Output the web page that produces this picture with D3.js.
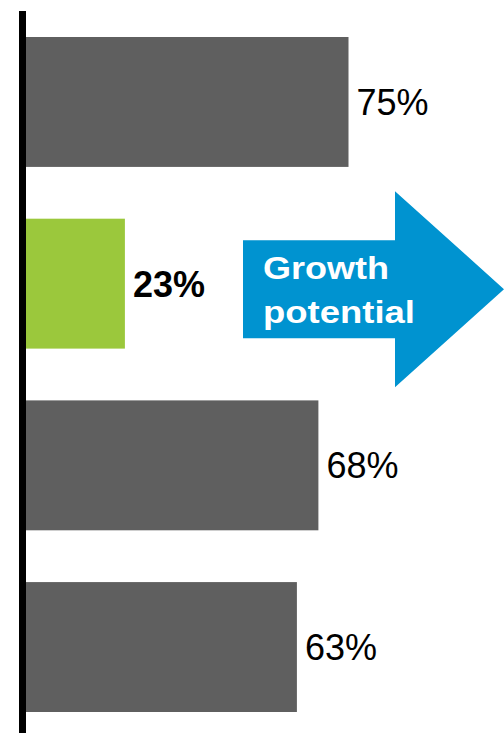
<!DOCTYPE html>
<html>
<head>
<meta charset="utf-8">
<script src="https://cdn.jsdelivr.net/npm/d3@7"></script>
<style>
  body { margin: 0; background: #fff; }
  svg { display: block; }
  text { font-family: "Liberation Sans", Arial, sans-serif; }
</style>
</head>
<body>
<div id="chart"></div>
<script>
var categories = ["A", "B", "C", "D"];
var values = [75, 23, 68, 63];
var highlight = ["B"];
var calloutLines = ["Growth", "potential"];

var width = 504,
  height = 733;

var svg = d3.select("#chart")
  .append("svg")
  .attr("width", width)
  .attr("height", height);

var data = categories.map(function(c, i) {
  return { cat: c, value: values[i] };
});

var x = d3.scaleLinear().domain([0, 100]).range([26, 456]);

var y = d3.scaleBand()
  .domain(categories)
  .range([37, 712])
  .paddingInner(0.285)
  .paddingOuter(0);

// bars
svg.selectAll(".bar")
  .data(data)
  .enter().append("rect")
  .attr("class", "bar")
  .attr("x", x(0))
  .attr("y", function(d) { return y(d.cat); })
  .attr("width", function(d) { return x(d.value) - x(0); })
  .attr("height", y.bandwidth())
  .attr("fill", function(d) {
    return highlight.indexOf(d.cat) >= 0 ? "#9bc83c" : "#5f5f5f";
  });

// value labels
svg.selectAll(".label")
  .data(data)
  .enter().append("text")
  .attr("class", "label")
  .attr("x", function(d) { return x(d.value) + 8; })
  .attr("y", function(d) { return y(d.cat) + y.bandwidth() / 2; })
  .attr("dy", "0.36em")
  .style("font-size", "36px")
  .style("font-weight", function(d) {
    return highlight.indexOf(d.cat) >= 0 ? "bold" : "normal";
  })
  .attr("fill", "#000")
  .text(function(d) { return d.value + "%"; });

// axis line
svg.append("line")
  .attr("x1", 22.5).attr("x2", 22.5)
  .attr("y1", 11).attr("y2", height)
  .attr("stroke", "#000")
  .attr("stroke-width", 7);

// callout arrow next to highlighted bar
var cy = y("B") + y.bandwidth() / 2 + 5.5;
var arrow = d3.path();
arrow.moveTo(243, cy - 49);
arrow.lineTo(395, cy - 49);
arrow.lineTo(395, cy - 98);
arrow.lineTo(504, cy);
arrow.lineTo(395, cy + 98);
arrow.lineTo(395, cy + 49);
arrow.lineTo(243, cy + 49);
arrow.closePath();

svg.append("path")
  .attr("d", arrow.toString())
  .attr("fill", "#0093d0");

svg.selectAll(".callout")
  .data(calloutLines)
  .enter().append("text")
  .attr("class", "callout")
  .attr("x", 263)
  .attr("y", function(d, i) { return cy - 10 + i * 44; })
  .attr("textLength", function(d, i) { return i === 0 ? 126 : 152; })
  .attr("lengthAdjust", "spacingAndGlyphs")
  .style("font-size", "32px")
  .style("font-weight", "bold")
  .attr("fill", "#fff")
  .text(function(d) { return d; });
</script>
</body>
</html>
